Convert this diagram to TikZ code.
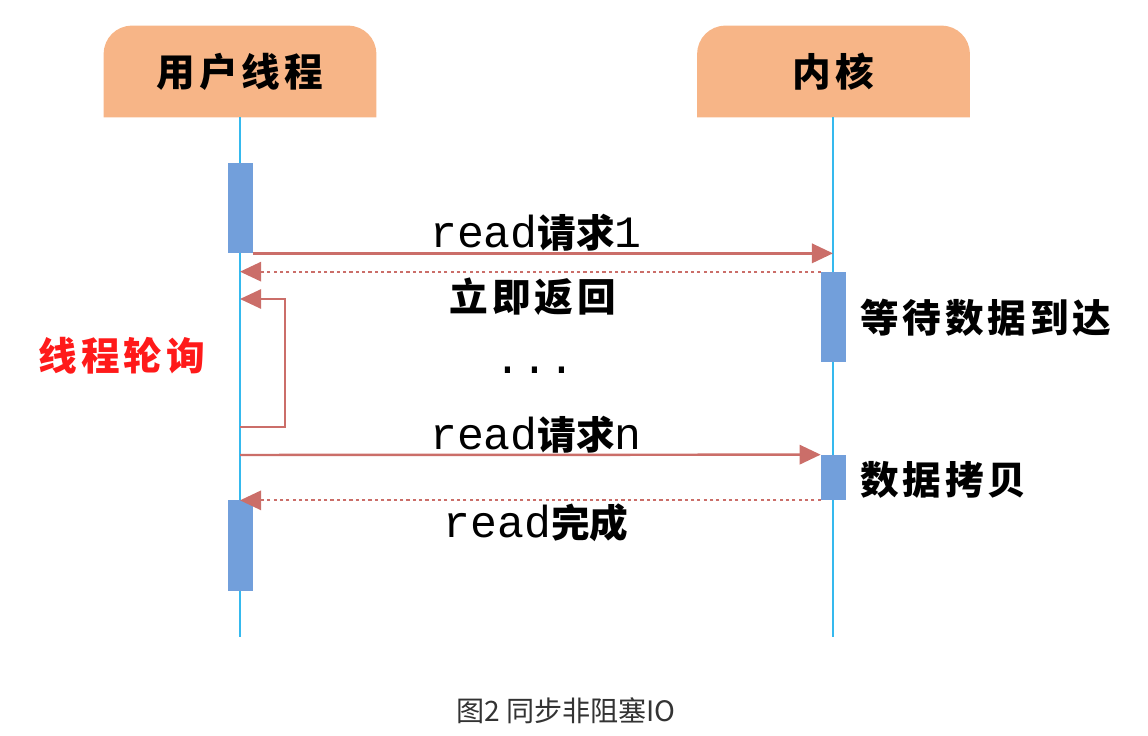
\documentclass[tikz,border=0pt]{standalone}
\usepackage{fontspec}
\usepackage{xcolor}
\usepackage{tikz}
\usetikzlibrary{arrows.meta,positioning,calc,backgrounds}

\newfontfamily\cjk{Noto Sans CJK SC}
\newfontfamily\cjksp{Noto Sans CJK SC}[LetterSpace=10]
\newfontfamily\monof{Liberation Mono}
\newcommand{\mtxt}[1]{{\monof\mdseries\fontsize{25.5}{29}\selectfont #1}}

\definecolor{hdrfill}{HTML}{F7B587}
\definecolor{actblue}{HTML}{729FDB}
\definecolor{lifeblue}{HTML}{35B9EE}
\definecolor{arrred}{HTML}{CB6E69}
\definecolor{pollred}{HTML}{FF1A1A}
\definecolor{captxt}{HTML}{333333}

\tikzset{
 hdr/.style={minimum width=5.44cm,minimum height=1.82cm,inner sep=0pt,
  font=\cjksp\bfseries\fontsize{22}{26}\selectfont},
 act/.style={fill=actblue,minimum width=0.5cm,inner sep=0pt},
 life/.style={draw=lifeblue,line width=1.4pt},
 msg/.style={draw=arrred,line width=1.4pt,-{Triangle[length=12pt,width=11pt]}},
 ret/.style={msg,line width=1.2pt,dash pattern=on 1.8pt off 1.8pt},
 poll/.style={draw=arrred,line width=1pt,-{Triangle[length=12pt,width=11pt]}},
 lbl/.style={inner sep=0pt,font=\cjk\bfseries\fontsize{22}{26}\selectfont},
 sidelbl/.style={lbl,anchor=west,font=\cjksp\bfseries\fontsize{22}{26}\selectfont}
}

\begin{document}
\begin{tikzpicture}[x=0.02cm,y=-0.02cm,>=Latex]
 \useasboundingbox (0,0) rectangle (1148,736);
 % headers
 \node[hdr] (user) at (240,71.5) {用户线程};
 \node[hdr] (kern) at (833.5,71.5) {内核};
 \begin{scope}[on background layer]
  \fill[hdrfill,rounded corners=16pt] (user.south west) -- (user.north west) -- (user.north east) -- (user.south east);
  \fill[hdrfill,rounded corners=16pt] (kern.south west) -- (kern.north west) -- (kern.north east) -- (kern.south east);
 \end{scope}
 % lifelines
 \coordinate (userend) at (240,637);
 \coordinate (kernend) at (833,637);
 \draw[life] (user.south -| userend) -- (userend);
 \draw[life] (kern.south -| kernend) -- (kernend);
 % activation bars
 \node[act,minimum height=1.8cm] (ua1) at (240.5,208) {};
 \node[act,minimum height=1.8cm] (ka1) at (833.5,317) {};
 \node[act,minimum height=0.9cm] (ka2) at (833.5,477.5) {};
 \node[act,minimum height=1.82cm] (ua2) at (240.5,545.5) {};
 % messages
 \draw[msg] (ua1.south east) -- (ua1.south east -| kernend);
 \draw[ret] (ka1.north west) -- (ka1.north west -| userend);
 \coordinate (pollfrom) at (240,427);
 \coordinate (pollto) at (240,299);
 \draw[poll] (pollfrom) -- ++(45,0) |- (pollto);
 \coordinate (reqn) at (240,455);
 \draw[msg] (reqn) -- (ka2.north west);
 \draw[ret] (ka2.south west) -- (ka2.south west -| userend);
 % labels
 \node[lbl] (req1) at (536,233) {\mtxt{read}请求\mtxt{1}};
 \node[lbl,font=\cjksp\bfseries\fontsize{22}{26}\selectfont] (back) at (533,297) {立即返回};
 \node[lbl] (dots) at (535,370) {\mtxt{...}};
 \node[lbl] (reqnl) at (536,435) {\mtxt{read}请求\mtxt{n}};
 \node[lbl] (done) at (536,523) {\mtxt{read}完成};
 \node[sidelbl] (wait) at (860,318) {等待数据到达};
 \node[sidelbl] (copy) at (860,480) {数据拷贝};
 \node[lbl,font=\cjksp\bfseries\fontsize{22}{26}\selectfont,text=pollred] (polltxt) at (122,356) {线程轮询};
 \node[inner sep=0pt,font=\cjk\fontsize{16}{19}\selectfont,text=captxt] (cap) at (566,711) {图2 同步非阻塞IO};
\end{tikzpicture}
\end{document}
